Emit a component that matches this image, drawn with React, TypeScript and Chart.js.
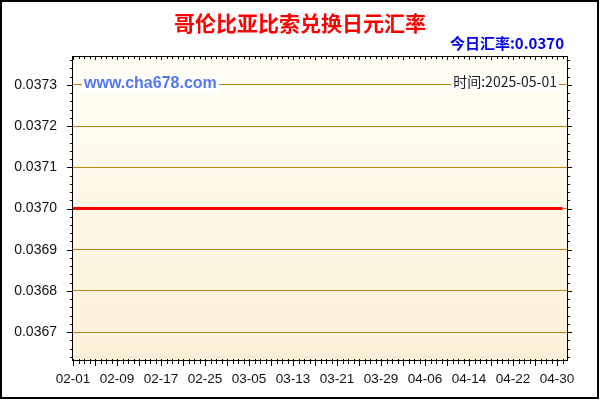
import { useRef, useEffect } from "react";
import { Chart, registerables } from "chart.js";

Chart.register(...registerables);

// daily dates shown on the x axis (02-01 .. 05-01)
const dates = [
  "02-01", "02-02", "02-03", "02-04", "02-05", "02-06", "02-07", "02-08", "02-09", "02-10",
  "02-11", "02-12", "02-13", "02-14", "02-15", "02-16", "02-17", "02-18", "02-19", "02-20",
  "02-21", "02-22", "02-23", "02-24", "02-25", "02-26", "02-27", "02-28", "03-01", "03-02",
  "03-03", "03-04", "03-05", "03-06", "03-07", "03-08", "03-09", "03-10", "03-11", "03-12",
  "03-13", "03-14", "03-15", "03-16", "03-17", "03-18", "03-19", "03-20", "03-21", "03-22",
  "03-23", "03-24", "03-25", "03-26", "03-27", "03-28", "03-29", "03-30", "03-31", "04-01",
  "04-02", "04-03", "04-04", "04-05", "04-06", "04-07", "04-08", "04-09", "04-10", "04-11",
  "04-12", "04-13", "04-14", "04-15", "04-16", "04-17", "04-18", "04-19", "04-20", "04-21",
  "04-22", "04-23", "04-24", "04-25", "04-26", "04-27", "04-28", "04-29", "04-30", "05-01",
];

// COP -> JPY rate per day
const rates = [
  0.037, 0.037, 0.037, 0.037, 0.037, 0.037, 0.037, 0.037, 0.037, 0.037,
  0.037, 0.037, 0.037, 0.037, 0.037, 0.037, 0.037, 0.037, 0.037, 0.037,
  0.037, 0.037, 0.037, 0.037, 0.037, 0.037, 0.037, 0.037, 0.037, 0.037,
  0.037, 0.037, 0.037, 0.037, 0.037, 0.037, 0.037, 0.037, 0.037, 0.037,
  0.037, 0.037, 0.037, 0.037, 0.037, 0.037, 0.037, 0.037, 0.037, 0.037,
  0.037, 0.037, 0.037, 0.037, 0.037, 0.037, 0.037, 0.037, 0.037, 0.037,
  0.037, 0.037, 0.037, 0.037, 0.037, 0.037, 0.037, 0.037, 0.037, 0.037,
  0.037, 0.037, 0.037, 0.037, 0.037, 0.037, 0.037, 0.037, 0.037, 0.037,
  0.037, 0.037, 0.037, 0.037, 0.037, 0.037, 0.037, 0.037, 0.037, 0.037,
];

const xTickLabels = [
  "02-01", "02-09", "02-17", "02-25", "03-05", "03-13",
  "03-21", "03-29", "04-06", "04-14", "04-22", "04-30",
];
const yTickValues = [0.0367, 0.0368, 0.0369, 0.037, 0.0371, 0.0372, 0.0373];

const titleText = "哥伦比亚比索兑换日元汇率";
const todayText = "今日汇率:0.0370";
const siteText = "www.cha678.com";
const timeText = "时间:2025-05-01";

const CJK = '"Noto Sans CJK SC", "Liberation Sans", sans-serif';
const SANS = '"Liberation Sans", Arial, sans-serif';

const decorPlugin = {
  id: "decor",
  beforeDraw(chart: any) {
    const { ctx, chartArea: a } = chart;
    ctx.save();
    ctx.fillStyle = "#ffffff";
    ctx.fillRect(0, 0, chart.width, chart.height);
    const g = ctx.createLinearGradient(0, a.top, 0, a.bottom);
    g.addColorStop(0, "#fffef4");
    g.addColorStop(1, "#fcf0d8");
    ctx.fillStyle = g;
    ctx.fillRect(a.left, a.top, a.right - a.left, a.bottom - a.top);
    ctx.restore();
  },
  afterDraw(chart: any) {
    const { ctx, chartArea: a, scales } = chart;
    const x = scales.x;
    const y = scales.y;
    ctx.save();

    // frame
    ctx.strokeStyle = "#000";
    ctx.lineWidth = 1;
    ctx.strokeRect(Math.round(a.left) - 0.5, Math.round(a.top) + 0.5, Math.round(a.right - a.left), Math.round(a.bottom - a.top) - 1);

    // y ticks, minor every 0.00002
    ctx.beginPath();
    for (let i = 0; i <= 40; i++) {
      const v = 0.0366 + i * 0.00002;
      const py = Math.round(y.getPixelForValue(v)) + 0.5;
      if (py < a.top || py > a.bottom) continue;
      const major = i % 5 === 0;
      ctx.moveTo(a.left - (major ? 6 : 3), py);
      ctx.lineTo(a.left, py);
      ctx.moveTo(a.right, py);
      ctx.lineTo(a.right + (major ? 4 : 2), py);
    }
    // x ticks, every day, longer every 4 days
    for (let i = 0; i < dates.length; i++) {
      const px = Math.round(x.getPixelForValue(i)) + 0.5;
      const major = i % 4 === 0;
      ctx.moveTo(px, a.bottom - 2);
      ctx.lineTo(px, a.bottom + (major ? 5 : 3));
      ctx.moveTo(px, a.top);
      ctx.lineTo(px, a.top + (major ? 4 : 3));
    }
    ctx.stroke();

    // outer border
    ctx.lineWidth = 2;
    ctx.strokeRect(1, 1, 597, 397);

    // title
    ctx.fillStyle = "#ff0000";
    ctx.font = `bold 21px ${CJK}`;
    ctx.textAlign = "center";
    ctx.textBaseline = "middle";
    ctx.fillText(titleText, 300, 23);

    // today rate
    ctx.fillStyle = "#0000ee";
    ctx.font = `bold 15px ${CJK}`;
    ctx.textAlign = "right";
    ctx.fillText(todayText, 564, 43);

    // site
    ctx.font = `bold 16px ${SANS}`;
    ctx.textAlign = "left";
    const sw = ctx.measureText(siteText).width;
    ctx.fillStyle = "#ffffff";
    ctx.fillRect(82, 75, sw + 4, 18);
    ctx.fillStyle = "#5577ee";
    ctx.fillText(siteText, 84, 84);

    // time
    ctx.font = `14px ${CJK}`;
    ctx.textAlign = "right";
    const tw = ctx.measureText(timeText).width;
    ctx.fillStyle = "#ffffff";
    ctx.fillRect(557 - tw - 2, 74, tw + 4, 17);
    ctx.fillStyle = "#222";
    ctx.fillText(timeText, 557, 82);

    ctx.restore();
  },
};

const App = () => {
  const canvasRef = useRef<HTMLCanvasElement>(null);
  const chartRef = useRef<Chart | null>(null);

  useEffect(() => {
    document.body.style.margin = "0";
    if (!canvasRef.current) return;
    chartRef.current?.destroy();
    chartRef.current = new Chart(canvasRef.current, {
      type: "line",
      data: {
        datasets: [
          {
            data: rates.map((r, i) => ({ x: i, y: r })),
            borderColor: "#ff0000",
            borderWidth: 3,
            pointRadius: 0,
            tension: 0,
            fill: false,
          },
        ],
      },
      options: {
        animation: false,
        responsive: false,
        devicePixelRatio: 1,
        layout: { padding: { top: 56, right: 32, left: 0, bottom: 0 } },
        plugins: { legend: { display: false }, tooltip: { enabled: false } },
        scales: {
          x: {
            type: "linear",
            min: 0,
            max: dates.length,
            afterFit: (s: any) => {
              s.height = 39;
            },
            afterBuildTicks: (s: any) => {
              s.ticks = xTickLabels.map((l) => ({ value: dates.indexOf(l) }));
            },
            grid: { display: false, drawTicks: false },
            border: { display: false },
            ticks: {
              autoSkip: false,
              maxRotation: 0,
              padding: 10,
              color: "#111",
              font: { family: SANS, size: 13.5 },
              callback: (v: any) => dates[v] ?? "",
            },
          },
          y: {
            type: "linear",
            min: 0.03663,
            max: 0.03737,
            afterFit: (s: any) => {
              s.width = 73;
            },
            afterBuildTicks: (s: any) => {
              s.ticks = yTickValues.map((v) => ({ value: v }));
            },
            grid: { color: "#b8860b", lineWidth: 1, drawTicks: false },
            border: { display: false },
            ticks: {
              padding: 16,
              color: "#111",
              font: { family: SANS, size: 14 },
              callback: (v: any) => Number(v).toFixed(4),
            },
          },
        },
      },
      plugins: [decorPlugin],
    });
    return () => {
      chartRef.current?.destroy();
      chartRef.current = null;
    };
  }, []);

  return (
    <div style={{ width: 600, height: 400 }}>
      <canvas ref={canvasRef} width={600} height={400} />
    </div>
  );
};

export default App;
